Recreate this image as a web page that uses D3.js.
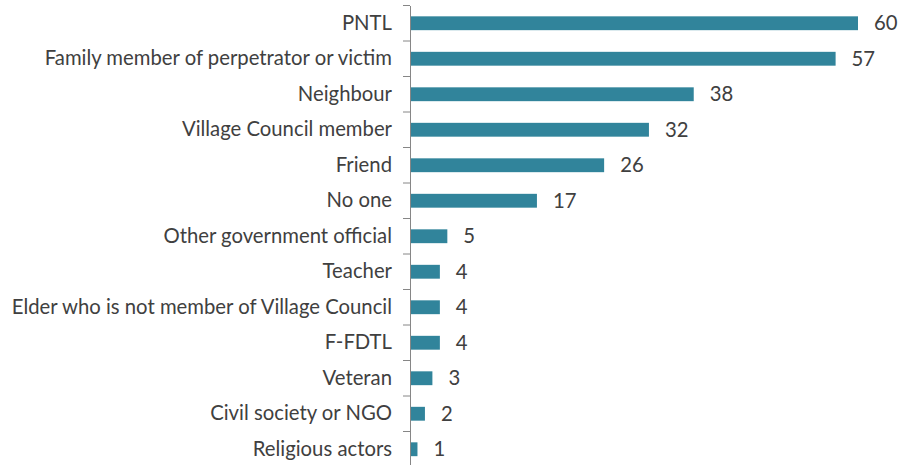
<!DOCTYPE html>
<html>
<head>
<meta charset="utf-8">
<script src="https://cdn.jsdelivr.net/npm/d3@7"></script>
<style>
  html, body { margin: 0; padding: 0; background: #ffffff; }
  svg { display: block; }
</style>
</head>
<body>
<svg id="chart" width="914" height="465"></svg>
<script>
const categories = [
  "PNTL",
  "Family member of perpetrator or victim",
  "Neighbour",
  "Village Council member",
  "Friend",
  "No one",
  "Other government official",
  "Teacher",
  "Elder who is not member of Village Council",
  "F-FDTL",
  "Veteran",
  "Civil society or NGO",
  "Religious actors"
];
const values = [60, 57, 38, 32, 26, 17, 5, 4, 4, 4, 3, 2, 1];

const svg = d3.select("#chart");
const axisX = 410;
const plotTop = 5.5, bandH = 35.5;
const x = d3.scaleLinear().domain([0, 60]).range([axisX, 858]);
const y = d3.scaleBand().domain(categories).range([plotTop, plotTop + bandH * categories.length]).paddingInner(0.61).paddingOuter(0.305);

const fontFamily = "Lato, 'Open Sans', sans-serif";
const fontSize = 20.3;
const textColor = "#404040";
const barColor = "#31849B";

// bars
svg.append("g").selectAll("rect").data(values).join("rect")
  .attr("x", x(0))
  .attr("y", (d, i) => y(categories[i]))
  .attr("width", d => x(d) - x(0))
  .attr("height", y.bandwidth())
  .attr("fill", barColor);

// axis
const yAxis = d3.axisLeft(y).tickSize(0).tickPadding(18);
const gAxis = svg.append("g").attr("transform", `translate(${axisX},0)`).call(yAxis);
gAxis.select(".domain").attr("stroke", "#868686").attr("stroke-width", 1);
gAxis.selectAll("text")
  .attr("font-family", fontFamily)
  .attr("font-size", fontSize)
  .attr("fill", textColor);

// tick marks at category boundaries
const bounds = d3.range(categories.length + 1).map(i => plotTop + bandH * i);
svg.append("g").selectAll("line").data(bounds).join("line")
  .attr("x1", axisX - 7).attr("x2", axisX)
  .attr("y1", d => d).attr("y2", d => d)
  .attr("stroke", "#868686").attr("stroke-width", 1);

// value labels
svg.append("g").selectAll("text").data(values).join("text")
  .attr("x", d => x(d) + 16)
  .attr("y", (d, i) => y(categories[i]) + y.bandwidth() / 2)
  .attr("dy", "0.35em")
  .attr("font-family", fontFamily)
  .attr("font-size", fontSize)
  .attr("fill", textColor)
  .text(d => d);
</script>
</body>
</html>
